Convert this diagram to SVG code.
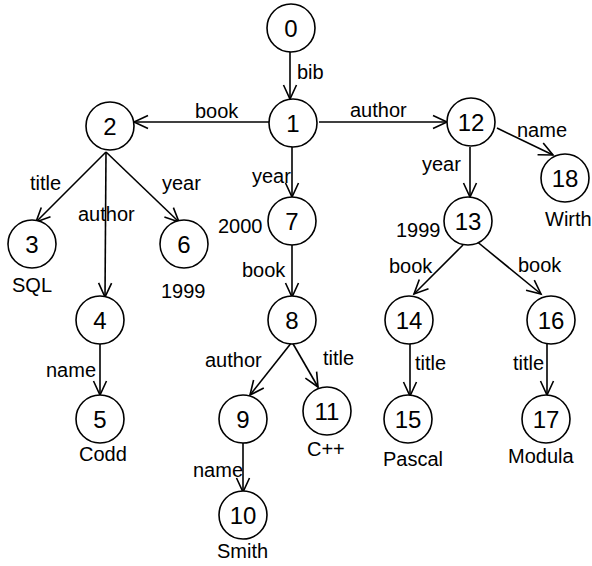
<svg xmlns="http://www.w3.org/2000/svg" width="592" height="566" viewBox="0 0 592 566">
<defs>
<style>
.n circle{fill:#fff;stroke:#000;stroke-width:1.6}
.n text{font-family:"Liberation Sans",Arial,sans-serif;font-size:24px;text-anchor:middle;fill:#000}
.e line{stroke:#000;stroke-width:1.6;fill:none;marker-end:url(#a)}
.l{font-family:"Liberation Sans",Arial,sans-serif;font-size:20px;fill:#000}
</style>
<marker id="a" markerUnits="userSpaceOnUse" markerWidth="20" markerHeight="20" refX="14" refY="7" orient="auto" overflow="visible">
<path d="M0,0.5 L14,7 L0,13.5" fill="none" stroke="#000" stroke-width="1.6"/>
</marker>
</defs>
<rect width="592" height="566" fill="#fff"/>
<g id="edges" class="e">
<line x1="290" y1="52" x2="290" y2="99"/>
<line x1="269" y1="122" x2="134" y2="122"/>
<line x1="319" y1="122" x2="447" y2="122"/>
<line x1="292" y1="147" x2="292" y2="197"/>
<line x1="497" y1="128" x2="553" y2="155"/>
<line x1="470" y1="147" x2="470" y2="197"/>
<line x1="106" y1="152" x2="36" y2="222"/>
<line x1="106" y1="152" x2="105" y2="297"/>
<line x1="106" y1="152" x2="179" y2="222"/>
<line x1="100" y1="344" x2="100" y2="395"/>
<line x1="292" y1="245" x2="292" y2="297"/>
<line x1="292" y1="342" x2="250" y2="395"/>
<line x1="292" y1="342" x2="318" y2="387"/>
<line x1="243" y1="443" x2="243" y2="492"/>
<line x1="463" y1="245" x2="414" y2="294"/>
<line x1="475" y1="240" x2="541" y2="294"/>
<line x1="410" y1="344" x2="410" y2="396"/>
<line x1="547" y1="344" x2="547" y2="395"/>
</g>
<g id="edge-labels" class="l">
<text x="297" y="79">bib</text>
<text x="195" y="118">book</text>
<text x="350" y="117">author</text>
<text x="517" y="137">name</text>
<text x="252" y="183">year</text>
<text x="422" y="171">year</text>
<text x="30" y="190">title</text>
<text x="78" y="221">author</text>
<text x="162" y="190">year</text>
<text x="242" y="277">book</text>
<text x="46" y="377">name</text>
<text x="205" y="367">author</text>
<text x="323" y="365">title</text>
<text x="389" y="273">book</text>
<text x="518" y="272">book</text>
<text x="415" y="370">title</text>
<text x="513" y="370">title</text>
<text x="193" y="477">name</text>
</g>
<g id="n0" class="n"><circle cx="291" cy="28" r="24"/><text x="291" y="37">0</text></g>
<g id="n1" class="n"><circle cx="293" cy="123" r="24"/><text x="293" y="132">1</text></g>
<g id="n2" class="n"><circle cx="110" cy="126" r="24"/><text x="110" y="135">2</text></g>
<g id="n3" class="n"><circle cx="32" cy="244" r="24"/><text x="32" y="253">3</text></g>
<g id="n4" class="n"><circle cx="100" cy="320" r="24"/><text x="100" y="329">4</text></g>
<g id="n5" class="n"><circle cx="100" cy="419" r="24"/><text x="100" y="428">5</text></g>
<g id="n6" class="n"><circle cx="184" cy="244" r="24"/><text x="184" y="253">6</text></g>
<g id="n7" class="n"><circle cx="292" cy="221" r="24"/><text x="292" y="230">7</text></g>
<g id="n8" class="n"><circle cx="292" cy="320" r="24"/><text x="292" y="329">8</text></g>
<g id="n9" class="n"><circle cx="243" cy="419" r="24"/><text x="243" y="428">9</text></g>
<g id="n10" class="n"><circle cx="243" cy="515" r="24"/><text x="243" y="524">10</text></g>
<g id="n11" class="n"><circle cx="327" cy="411" r="24"/><text x="327" y="420">11</text></g>
<g id="n12" class="n"><circle cx="471" cy="122" r="24"/><text x="471" y="131">12</text></g>
<g id="n13" class="n"><circle cx="468" cy="221" r="24"/><text x="468" y="230">13</text></g>
<g id="n14" class="n"><circle cx="409" cy="320" r="24"/><text x="409" y="329">14</text></g>
<g id="n15" class="n"><circle cx="408" cy="419" r="24"/><text x="408" y="428">15</text></g>
<g id="n16" class="n"><circle cx="551" cy="320" r="24"/><text x="551" y="329">16</text></g>
<g id="n17" class="n"><circle cx="546" cy="419" r="24"/><text x="546" y="428">17</text></g>
<g id="n18" class="n"><circle cx="565" cy="178" r="24"/><text x="565" y="187">18</text></g>
<g id="values" class="l">
<text x="218" y="233">2000</text>
<text x="396" y="237">1999</text>
<text x="12" y="292">SQL</text>
<text x="161" y="298">1999</text>
<text x="79" y="461">Codd</text>
<text x="307" y="456">C++</text>
<text x="383" y="466">Pascal</text>
<text x="217" y="558">Smith</text>
<text x="545" y="226">Wirth</text>
<text x="508" y="463">Modula</text>
</g>
</svg>
